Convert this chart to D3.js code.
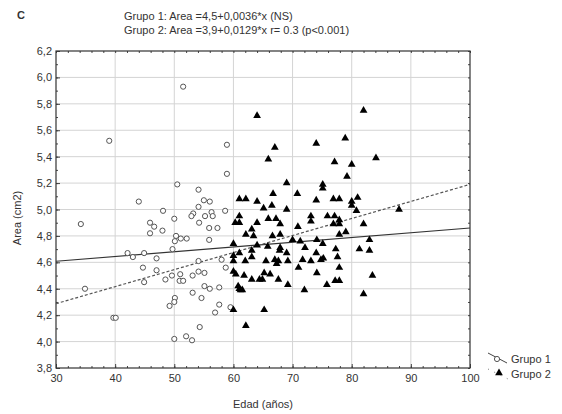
<!DOCTYPE html>
<html>
<head>
<meta charset="utf-8">
<script src="https://cdn.jsdelivr.net/npm/d3@7"></script>
<style>
  body { margin: 0; background: #fff; }
  text { font-family: "Liberation Sans", Arial, sans-serif; fill: #333; }
  .axis path { display: none; }
  .axis line { stroke: #444; }
</style>
</head>
<body>
<div id="chart"></div>
<script>
var w = 562,
	h = 414;

// Grupo 1 (circles)
var g1Edad = [51.5,39.0,50.5,54.1,55.0,56.0,44.0,54.1,48.1,53.2,52.9,55.2,56.3,56.5,50.0,34.2,45.9,46.6,45.9,48.0,
	54.2,55.9,57.3,50.3,50.1,51.1,52.1,55.9,49.7,42.1,43.0,44.9,47.0,54.1,44.7,47.0,44.9,48.5,49.6,51.0,
	50.9,51.5,53.1,54.1,55.1,34.9,55.1,56.0,57.6,53.1,54.6,50.1,50.0,49.2,56.9,57.6,39.7,40.1,54.3,50.0,
	52.0,53.0,58.9,58.9,58.6,58.0,58.7,59.5];
var g1Area = [5.93,5.52,5.19,5.15,5.07,5.06,5.06,5.02,4.99,4.97,4.95,4.95,4.98,4.95,4.93,4.89,4.90,4.87,4.82,4.84,
	4.90,4.86,4.86,4.80,4.76,4.78,4.78,4.77,4.70,4.67,4.64,4.67,4.63,4.61,4.56,4.54,4.45,4.47,4.50,4.51,
	4.46,4.46,4.50,4.53,4.52,4.40,4.42,4.40,4.41,4.37,4.33,4.33,4.30,4.27,4.22,4.28,4.18,4.18,4.11,4.02,
	4.04,4.01,5.49,5.27,4.99,4.62,4.56,4.26];

// Grupo 2 (triangles)
var g2Edad = [64.0,67.0,65.9,74.0,78.9,77.1,79.2,69.0,75.1,75.1,61.0,62.1,64.0,66.7,66.5,70.8,74.0,76.9,77.9,65.1,
	69.0,82.0,80.0,84.1,80.0,80.0,81.0,80.8,88.0,77.1,76.9,77.9,77.9,82.0,79.0,77.9,83.0,77.3,81.3,83.0,
	77.6,77.9,77.2,77.9,83.5,82.0,61.0,60.3,61.0,64.0,65.9,67.2,67.9,73.1,73.1,75.9,70.9,63.1,62.1,63.4,
	66.6,67.9,70.0,74.1,75.1,60.0,64.0,65.8,67.9,71.3,72.1,61.0,63.1,67.8,69.0,74.0,60.0,60.0,62.0,63.1,
	65.5,67.0,67.3,67.6,69.2,71.7,73.1,74.8,75.2,71.0,74.1,60.0,60.4,61.8,63.1,64.4,64.9,65.2,66.2,67.6,
	69.2,75.8,60.8,61.0,61.2,61.5,72.0,60.0,65.2,62.1];
var g2Area = [5.71,5.47,5.38,5.50,5.54,5.36,5.25,5.20,5.19,5.16,5.08,5.08,5.06,5.12,5.03,5.12,5.07,5.08,5.08,5.01,
	5.00,5.75,5.34,5.39,5.06,5.03,5.09,4.99,5.00,4.95,4.89,4.89,4.92,4.89,4.83,4.81,4.77,4.70,4.70,4.69,
	4.64,4.56,4.46,4.46,4.50,4.36,4.95,4.90,4.90,4.90,4.93,4.93,4.89,4.95,4.91,4.95,4.87,4.85,4.81,4.80,
	4.80,4.81,4.77,4.77,4.74,4.74,4.73,4.72,4.71,4.76,4.71,4.67,4.69,4.69,4.67,4.67,4.65,4.61,4.61,4.64,
	4.61,4.62,4.59,4.61,4.61,4.62,4.61,4.62,4.63,4.56,4.52,4.53,4.51,4.50,4.47,4.47,4.47,4.52,4.51,4.47,
	4.43,4.43,4.42,4.40,4.39,4.39,4.39,4.24,4.24,4.12];

// regression lines (intercept, slope) from the title
var groups = ["Grupo 1", "Grupo 2"];
var intercepts = [4.5, 3.9];
var slopes = [0.0036, 0.0129];
var titleLines = ["Grupo 1: Area =4,5+0,0036*x (NS)", "Grupo 2: Area =3,9+0,0129*x r= 0.3 (p<0.001)"];

var xTicks = [30, 40, 50, 60, 70, 80, 90, 100];
var yTicks = [3.8, 4.0, 4.2, 4.4, 4.6, 4.8, 5.0, 5.2, 5.4, 5.6, 5.8, 6.0, 6.2];

var margin = {left: 56, right: 92, top: 51, bottom: 46};
var iw = w - margin.left - margin.right,
	ih = h - margin.top - margin.bottom;

var svg = d3.select("#chart").append("svg")
	.attr("width", w)
	.attr("height", h);

var g = svg.append("g")
	.attr("transform", "translate(" + margin.left + "," + margin.top + ")");

var x = d3.scaleLinear().domain([30, 100]).range([0, iw]);
var y = d3.scaleLinear().domain([3.8, 6.2]).range([ih, 0]);
var comma = function(d){ return d3.format(".1f")(d).replace(".", ","); };

// grid
g.append("g").selectAll("line")
	.data(xTicks.slice(1, -1))
	.enter().append("line")
	.attr("x1", d => x(d)).attr("x2", d => x(d))
	.attr("y1", 0).attr("y2", ih)
	.attr("stroke", "#d4d4d4");
g.append("g").selectAll("line")
	.data(yTicks.slice(1, -1))
	.enter().append("line")
	.attr("y1", d => y(d)).attr("y2", d => y(d))
	.attr("x1", 0).attr("x2", iw)
	.attr("stroke", "#d4d4d4");

// inward ticks on all sides
var xMinor = d3.range(30, 101, 2), yMinor = d3.range(38, 63, 1).map(d => d / 10);
g.append("g").attr("class", "axis").attr("transform", "translate(0," + ih + ")")
	.call(d3.axisBottom(x).tickValues(xTicks).tickSize(-4).tickPadding(6).tickFormat(d3.format("d")))
	.selectAll("text").style("font-size", "11px");
g.append("g").attr("class", "axis").attr("transform", "translate(0," + ih + ")")
	.call(d3.axisBottom(x).tickValues(xMinor).tickSize(-2).tickFormat(""));
g.append("g").attr("class", "axis")
	.call(d3.axisTop(x).tickValues(xMinor).tickSize(-2).tickFormat(""));
g.append("g").attr("class", "axis")
	.call(d3.axisLeft(y).tickValues(yTicks).tickSize(-4).tickPadding(4).tickFormat(comma))
	.selectAll("text").style("font-size", "11px");
g.append("g").attr("class", "axis")
	.call(d3.axisLeft(y).tickValues(yMinor).tickSize(-2).tickFormat(""));
g.append("g").attr("class", "axis").attr("transform", "translate(" + iw + ",0)")
	.call(d3.axisRight(y).tickValues(yMinor).tickSize(-2).tickFormat(""));

// frame
g.append("rect")
	.attr("width", iw).attr("height", ih)
	.attr("fill", "none").attr("stroke", "#333").attr("stroke-width", 1.2);

// regression lines
var lineStyles = [null, "3,2"];
groups.forEach(function(name, i){
	g.append("line")
		.attr("x1", x(30)).attr("y1", y(intercepts[i] + slopes[i] * 30))
		.attr("x2", x(100)).attr("y2", y(intercepts[i] + slopes[i] * 100))
		.attr("stroke", i == 0 ? "#333" : "#555")
		.attr("stroke-width", 1.2)
		.attr("stroke-dasharray", lineStyles[i]);
});

// points
var pts1 = g1Edad.map((d, i) => [d, g1Area[i]]);
var pts2 = g2Edad.map((d, i) => [d, g2Area[i]]);
g.append("g").selectAll("circle")
	.data(pts1).enter().append("circle")
	.attr("cx", d => x(d[0])).attr("cy", d => y(d[1]))
	.attr("r", 2.6)
	.attr("fill", "#fff").attr("stroke", "#555").attr("stroke-width", 1);
var tri = d3.symbol().type(d3.symbolTriangle).size(26);
g.append("g").selectAll("path")
	.data(pts2).enter().append("path")
	.attr("d", tri)
	.attr("transform", d => "translate(" + x(d[0]) + "," + y(d[1]) + ")")
	.attr("fill", "#000");

// titles
svg.append("text").attr("x", 17).attr("y", 19)
	.attr("font-size", "11px").attr("font-weight", "bold").text("C");
svg.selectAll(".title").data(titleLines).enter().append("text")
	.attr("class", "title")
	.attr("x", 124).attr("y", (d, i) => 20 + i * 14)
	.attr("font-size", "11px")
	.text(d => d);

svg.append("text")
	.attr("transform", "translate(21,218) rotate(-90)")
	.attr("text-anchor", "middle").attr("font-size", "11px")
	.text("Area (cm2)");
svg.append("text")
	.attr("x", margin.left + iw / 2).attr("y", 408)
	.attr("text-anchor", "middle").attr("font-size", "11px")
	.text("Edad (años)");

// legend
var legend = svg.append("g").attr("transform", "translate(488,353)");
legend.append("line").attr("x1", 0).attr("y1", 0).attr("x2", 19).attr("y2", 10)
	.attr("stroke", "#444");
legend.append("circle").attr("cx", 9).attr("cy", 6).attr("r", 2.6)
	.attr("fill", "#fff").attr("stroke", "#555");
legend.append("line").attr("x1", 0).attr("y1", 16).attr("x2", 20).attr("y2", 26)
	.attr("stroke", "#777").attr("stroke-dasharray", "1,6");
legend.append("path").attr("d", tri).attr("transform", "translate(11,20)").attr("fill", "#000");
legend.selectAll(".lt").data(groups).enter().append("text")
	.attr("class", "lt")
	.attr("x", 23).attr("y", (d, i) => 10 + i * 15)
	.attr("font-size", "11px")
	.text(d => d);
</script>
</body>
</html>
